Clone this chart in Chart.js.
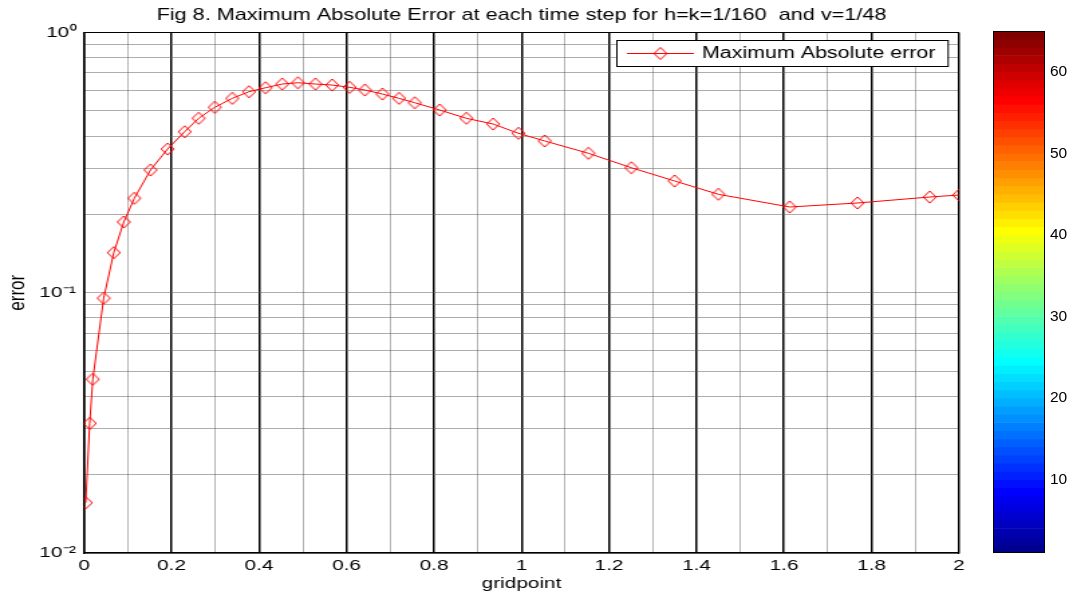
<!DOCTYPE html>
<html lang="en">
<head>
<meta charset="UTF-8">
<title>Fig 8. Maximum Absolute Error</title>
<script src="https://cdn.jsdelivr.net/npm/chart.js"></script>
<style>
  html, body { margin: 0; padding: 0; background: #fff; overflow: hidden; }
  /* the figure is stretched sideways, so draw narrow and widen it */
  #wrap { position: absolute; left: 0; top: 0; width: 798px; height: 596px; transform: scaleX(1.33960); transform-origin: 0 0; }
  #cbar { position: absolute; left: 993px; top: 0; width: 76px; height: 596px; }
</style>
</head>
<body>
<div id="wrap"><canvas id="errChart"></canvas></div>
<div id="cbar"><canvas id="cbChart"></canvas></div>

<script>
// data
const gridX = [0.004, 0.013, 0.020, 0.045, 0.068, 0.091, 0.115, 0.152, 0.191, 0.230,
  0.262, 0.299, 0.339, 0.377, 0.415, 0.453, 0.489, 0.529, 0.567, 0.607,
  0.642, 0.682, 0.720, 0.756, 0.813, 0.874, 0.935, 0.993, 1.053, 1.153,
  1.251, 1.350, 1.450, 1.613, 1.768, 1.933, 2.0];
const maxAbsErr = [0.0156, 0.0315, 0.0465, 0.0953, 0.1426, 0.1871, 0.2307, 0.2963, 0.3568, 0.4158,
  0.4682, 0.5161, 0.5587, 0.5924, 0.6136, 0.634, 0.6414, 0.634, 0.6284, 0.6159,
  0.6013, 0.5803, 0.5587, 0.5374, 0.5038, 0.4682, 0.4451, 0.41, 0.3831, 0.3435,
  0.3023, 0.2689, 0.239, 0.2136, 0.2213, 0.2333, 0.2375];

const xTicks = [0, 0.1, 0.2, 0.3, 0.4, 0.5, 0.6, 0.7, 0.8, 0.9, 1, 1.1, 1.2, 1.3, 1.4, 1.5, 1.6, 1.7, 1.8, 1.9, 2];
const xTickLabels = ['0', '', '0.2', '', '0.4', '', '0.6', '', '0.8', '', '1', '', '1.2', '', '1.4', '', '1.6', '', '1.8', '', '2'];
const yTicks = [0.01, 0.02, 0.03, 0.04, 0.05, 0.06, 0.07, 0.08, 0.09,
  0.1, 0.2, 0.3, 0.4, 0.5, 0.6, 0.7, 0.8, 0.9, 1];
const yTickLabels = { '0.01': '10\u207B\u00B2', '0.1': '10\u207B\u00B9', '1': '10\u2070' };
const cbTicks = [10, 20, 30, 40, 50, 60];
const cbLevels = Array.from({ length: 64 }, (_, i) => i + 1);

const S = 1069 / 798;
Chart.defaults.font.family = '"Liberation Sans", Arial, sans-serif';
Chart.defaults.color = '#000';

// matlab style jet colormap
function jetMap(n) {
  const m = Math.ceil(n / 4);
  const u = [];
  for (let i = 1; i <= m; i++) u.push(i / m);
  for (let i = 1; i < m; i++) u.push(1);
  for (let i = m; i >= 1; i--) u.push(i / m);
  const g0 = Math.ceil(m / 2) - (n % 4 === 1 ? 1 : 0);
  const rgb = Array.from({ length: n }, () => [0, 0, 0]);
  u.forEach((val, k) => {
    const g = g0 + k + 1;
    const r = g + m, b = g - m;
    if (r <= n) rgb[r - 1][0] = val;
    if (g <= n) rgb[g - 1][1] = val;
    if (b >= 1) rgb[b - 1][2] = val;
  });
  return rgb.map(c => `rgb(${Math.round(c[0] * 255)},${Math.round(c[1] * 255)},${Math.round(c[2] * 255)})`);
}
const jet64 = jetMap(64);

// diamond marker (narrower than tall, like matlab 'd')
const diamond = document.createElement('canvas');
diamond.width = 12; diamond.height = 14;
const dctx = diamond.getContext('2d');
dctx.strokeStyle = '#ff0000';
dctx.lineWidth = 1;
dctx.beginPath();
dctx.moveTo(6, 1); dctx.lineTo(10.8, 7); dctx.lineTo(6, 13); dctx.lineTo(1.2, 7);
dctx.closePath();
dctx.stroke();

function isMajorX(c) {
  return c.tick && Math.round(c.tick.value * 10) % 2 === 0;
}

// boxed legend in the top right corner of the axes
const boxLegend = {
  id: 'boxLegend',
  afterDatasetsDraw(chart) {
    const { ctx, chartArea } = chart;
    const ds = chart.data.datasets[0];
    ctx.save();
    ctx.font = '16px "Liberation Sans", Arial, sans-serif';
    const tw = ctx.measureText(ds.label).width;
    const w = 64 + tw + 9, h = 26;
    const x = Math.round(chartArea.right - 8.4 - w), y = Math.round(chartArea.top + 7.5);
    ctx.fillStyle = '#fff';
    ctx.fillRect(x, y, w, h);
    ctx.strokeStyle = '#000';
    ctx.lineWidth = 1;
    ctx.strokeRect(x + 0.5, y + 0.5, w, h);
    ctx.strokeStyle = ds.borderColor;
    ctx.beginPath();
    ctx.moveTo(x + 8, y + 13.5);
    ctx.lineTo(x + 58, y + 13.5);
    ctx.stroke();
    ctx.drawImage(diamond, x + 33 - 6, y + 13.5 - 7);
    ctx.fillStyle = '#000';
    ctx.textBaseline = 'middle';
    ctx.fillText(ds.label, x + 64, y + 14);
    ctx.restore();
  }
};

new Chart(document.getElementById('errChart'), {
  type: 'scatter',
  data: {
    datasets: [{
      label: 'Maximum Absolute error',
      data: gridX.map((x, i) => ({ x: x, y: maxAbsErr[i] })),
      showLine: true,
      borderColor: '#ff0000',
      backgroundColor: 'rgba(0,0,0,0)',
      borderWidth: 1,
      pointStyle: diamond,
      pointRadius: 6,
      tension: 0
    }]
  },
  options: {
    responsive: true,
    maintainAspectRatio: false,
    animation: false,
    layout: { padding: { left: 0, right: 798 - 959 / S, top: 0, bottom: 0 } },
    plugins: {
      legend: { display: false },
      tooltip: { enabled: false },
      title: {
        display: true,
        text: 'Fig 8. Maximum Absolute Error at each time step for h=k=1/160  and v=1/48',
        fullSize: false,
        color: '#000',
        font: { size: 16.2, weight: 'normal' },
        padding: { top: 6, bottom: 7.1 }
      }
    },
    scales: {
      x: {
        type: 'linear', min: 0, max: 2,
        afterBuildTicks: s => { s.ticks = xTicks.map(v => ({ value: v })); },
        afterFit: s => { s.height = 43; },
        ticks: { autoSkip: false, maxRotation: 0, padding: 3, font: { size: 15.5 }, color: '#000',
          callback: (v, i) => xTickLabels[i] },
        grid: { drawTicks: false,
          color: c => isMajorX(c) ? '#000' : '#6a6a6a',
          lineWidth: c => isMajorX(c) ? 1.5 : 1 },
        border: { color: '#000', width: 1.5, dash: c => (c.tick && !isMajorX(c)) ? [1, 1] : [] },
        title: { display: true, text: 'gridpoint', font: { size: 15.5 }, color: '#000', padding: { top: 0, bottom: 3 } }
      },
      y: {
        type: 'logarithmic', min: 0.01, max: 1,
        afterBuildTicks: s => { s.ticks = yTicks.map(v => ({ value: v })); },
        afterFit: s => { s.width = 84 / S; },
        ticks: { autoSkip: false, padding: 6, font: { size: 15.5 }, color: '#000',
          callback: v => yTickLabels[String(v)] || '' },
        grid: { drawTicks: false, color: '#5a5a5a', lineWidth: 1 },
        border: { color: '#000', width: 1.5, dash: [1, 1] },
        title: { display: true, text: 'error', font: { size: 17 }, color: '#000', padding: { top: 3.5, bottom: 0 } }
      },
      xTop: {
        type: 'linear', position: 'top', min: 0, max: 2,
        ticks: { display: false },
        grid: { drawOnChartArea: false, drawTicks: false },
        border: { color: '#000', width: 1 },
        afterFit: s => { s.height = 0; }
      },
      yRight: {
        type: 'logarithmic', position: 'right', min: 0.01, max: 1,
        ticks: { display: false },
        grid: { drawOnChartArea: false, drawTicks: false },
        border: { color: '#000', width: 1 },
        afterFit: s => { s.width = 0; }
      }
    }
  },
  plugins: [boxLegend]
});

// colorbar
const cbFrame = {
  id: 'cbFrame',
  afterDraw(chart) {
    const { ctx, chartArea } = chart;
    ctx.save();
    ctx.strokeStyle = '#000';
    ctx.lineWidth = 1;
    ctx.strokeRect(chartArea.left + 0.5, chartArea.top + 0.5, chartArea.width - 1, chartArea.height - 1);
    ctx.restore();
  }
};

new Chart(document.getElementById('cbChart'), {
  type: 'bar',
  data: {
    labels: ['c'],
    datasets: [{
      data: cbLevels.map(v => ({ x: 'c', y: [v, v + 1] })),
      backgroundColor: cbLevels.map(v => jet64[v - 1]),
      borderWidth: 0,
      barPercentage: 1,
      categoryPercentage: 1
    }]
  },
  options: {
    responsive: true,
    maintainAspectRatio: false,
    animation: false,
    layout: { padding: { top: 31, bottom: 43, left: 0, right: 0 } },
    plugins: { legend: { display: false }, tooltip: { enabled: false } },
    scales: {
      x: { display: false },
      y: {
        position: 'right', min: 1, max: 65,
        afterBuildTicks: s => { s.ticks = cbTicks.map(v => ({ value: v })); },
        afterFit: s => { s.width = 24; },
        ticks: { padding: 5, font: { size: 15.5 }, color: '#000' },
        grid: { drawOnChartArea: false, drawTicks: false },
        border: { display: false }
      }
    }
  },
  plugins: [cbFrame]
});
</script>
</body>
</html>
